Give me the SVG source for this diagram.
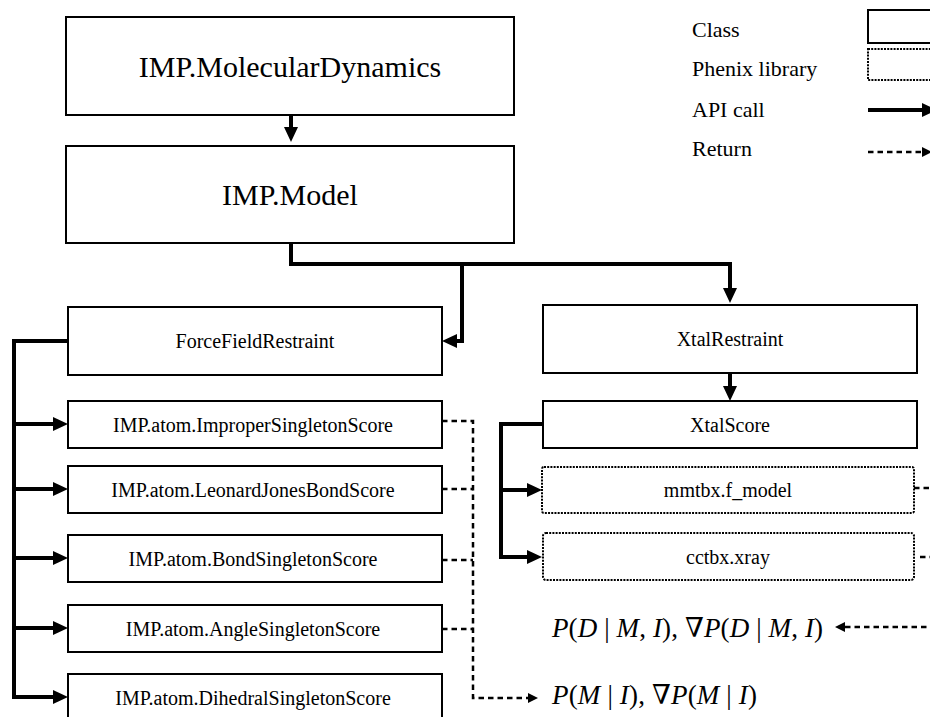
<svg xmlns="http://www.w3.org/2000/svg" width="930" height="717" viewBox="0 0 930 717">
<style>
  .box { fill: #fff; stroke: #000; stroke-width: 2; }
  .lib { fill: #fff; stroke: #000; stroke-width: 2; stroke-dasharray: 2 1.2; }
  .big { font-size: 30px; text-anchor: middle; }
  .lbl { font-size: 20px; text-anchor: middle; }
  .leg { font-size: 22px; }
  .math { font-size: 27px; }
  .call { fill: none; stroke: #000; stroke-width: 4; }
  .ret { fill: none; stroke: #000; stroke-width: 2.5; stroke-dasharray: 5.5 4; }
</style>
<defs>
  <marker id="ah" markerUnits="userSpaceOnUse" markerWidth="15" markerHeight="14" viewBox="0 0 15 14" refX="0" refY="7" orient="auto">
    <path d="M0,0 L15,7 L0,14 Z" fill="#000"/>
  </marker>
  <marker id="rh" markerUnits="userSpaceOnUse" markerWidth="10" markerHeight="10" viewBox="0 0 10 10" refX="0" refY="5" orient="auto">
    <path d="M0,0 L10,5 L0,10 Z" fill="#000"/>
  </marker>
</defs>
<rect width="930" height="717" fill="#fff"/>

<g id="connectors">
  <path class="call" d="M291,115 V127" marker-end="url(#ah)"/>
  <path class="call" d="M291,243 V264 H730 V288" marker-end="url(#ah)"/>
  <path class="call" d="M462,264 V341 H457" marker-end="url(#ah)"/>
  <path class="call" d="M68,341 H14 V697 H53" marker-end="url(#ah)"/>
  <path class="call" d="M14,424 H53" marker-end="url(#ah)"/>
  <path class="call" d="M14,489 H53" marker-end="url(#ah)"/>
  <path class="call" d="M14,558 H53" marker-end="url(#ah)"/>
  <path class="call" d="M14,628 H53" marker-end="url(#ah)"/>
  <path class="call" d="M730,373 V386" marker-end="url(#ah)"/>
  <path class="call" d="M542,424 H501 V557 H527" marker-end="url(#ah)"/>
  <path class="call" d="M501,490 H527" marker-end="url(#ah)"/>

  <path class="ret" d="M442,421 H473 V698 H528" marker-end="url(#rh)"/>
  <path class="ret" d="M442,489 H473"/>
  <path class="ret" d="M442,560 H473"/>
  <path class="ret" d="M442,629 H473"/>
  <path class="ret" d="M914,488 H935"/>
  <path class="ret" d="M920,557 H935"/>
  <path class="ret" d="M936,627 H845" marker-end="url(#rh)"/>
</g>

<g font-family="'Liberation Serif', 'Times New Roman', Tinos, 'DejaVu Serif', serif" fill="#000">
<g id="legend">
  <text class="leg" x="692" y="37">Class</text>
  <text class="leg" x="692" y="76">Phenix library</text>
  <text class="leg" x="692" y="117">API call</text>
  <text class="leg" x="692" y="156">Return</text>
  <rect class="box" x="868" y="10" width="80" height="33"/>
  <rect class="lib" x="868" y="49" width="80" height="31"/>
  <path class="call" d="M868,110 H922" marker-end="url(#ah)"/>
  <path class="ret" d="M868,152 H922" marker-end="url(#rh)"/>
</g>

<g id="md">
  <rect class="box" x="66" y="17" width="448" height="98"/>
  <text class="big" x="290" y="77">IMP.MolecularDynamics</text>
</g>
<g id="model">
  <rect class="box" x="66" y="146" width="448" height="97"/>
  <text class="big" x="290" y="205">IMP.Model</text>
</g>
<g id="forcefield">
  <rect class="box" x="68" y="307" width="374" height="68"/>
  <text class="lbl" x="255" y="348">ForceFieldRestraint</text>
</g>
<g id="improper">
  <rect class="box" x="68" y="401" width="374" height="47"/>
  <text class="lbl" x="253" y="431.5">IMP.atom.ImproperSingletonScore</text>
</g>
<g id="lj">
  <rect class="box" x="68" y="466" width="374" height="47"/>
  <text class="lbl" x="253" y="496.5">IMP.atom.LeonardJonesBondScore</text>
</g>
<g id="bond">
  <rect class="box" x="68" y="535" width="374" height="47"/>
  <text class="lbl" x="253" y="565.5">IMP.atom.BondSingletonScore</text>
</g>
<g id="angle">
  <rect class="box" x="68" y="605" width="374" height="47"/>
  <text class="lbl" x="253" y="635.5">IMP.atom.AngleSingletonScore</text>
</g>
<g id="dihedral">
  <rect class="box" x="68" y="674" width="374" height="47"/>
  <text class="lbl" x="253" y="704.5">IMP.atom.DihedralSingletonScore</text>
</g>
<g id="xtalrestraint">
  <rect class="box" x="543" y="305" width="374" height="68"/>
  <text class="lbl" x="730" y="346">XtalRestraint</text>
</g>
<g id="xtalscore">
  <rect class="box" x="543" y="401" width="374" height="47"/>
  <text class="lbl" x="730" y="431.5">XtalScore</text>
</g>
<g id="mmtbx">
  <rect class="lib" x="542" y="467" width="372" height="46" rx="2"/>
  <text class="lbl" x="728" y="497">mmtbx.f_model</text>
</g>
<g id="cctbx">
  <rect class="lib" x="543" y="533" width="371" height="47" rx="3"/>
  <text class="lbl" x="728" y="563.5">cctbx.xray</text>
</g>

<g id="data-likelihood">
  <text class="math" x="552" y="637" textLength="271" lengthAdjust="spacing"><tspan font-style="italic">P</tspan>(<tspan font-style="italic">D</tspan> | <tspan font-style="italic">M</tspan>, <tspan font-style="italic">I</tspan>), ∇<tspan font-style="italic">P</tspan>(<tspan font-style="italic">D</tspan> | <tspan font-style="italic">M</tspan>, <tspan font-style="italic">I</tspan>)</text>
</g>
<g id="prior">
  <text class="math" x="552" y="704" textLength="205" lengthAdjust="spacing"><tspan font-style="italic">P</tspan>(<tspan font-style="italic">M</tspan> | <tspan font-style="italic">I</tspan>), ∇<tspan font-style="italic">P</tspan>(<tspan font-style="italic">M</tspan> | <tspan font-style="italic">I</tspan>)</text>
</g>
</g>
</svg>
